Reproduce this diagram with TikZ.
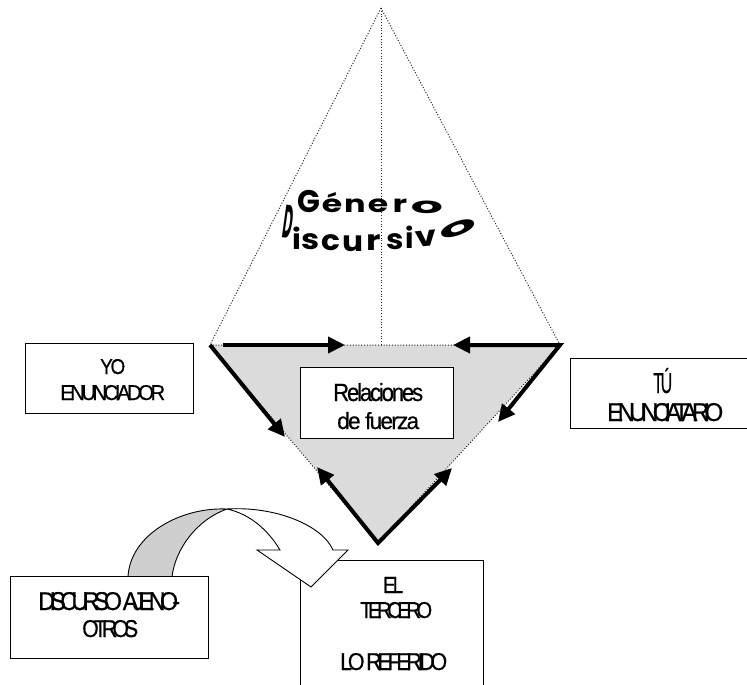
\documentclass[tikz,border=0pt]{standalone}
\usepackage{fontspec}
\setmainfont{Liberation Sans}
\newfontfamily\lsfont{Liberation Sans}[FakeBold=0.5]
\newfontfamily\wafont{Poppins}
\usetikzlibrary{arrows.meta}
\newcommand\fitt[4]{\resizebox{#1pt}{#2pt}{\lsfont\addfontfeature{LetterSpace=#3}#4}}
\tikzset{
  box/.style={draw, line width=0.9pt, fill=white, inner sep=0pt},
  txt/.style={inner sep=0pt, anchor=base west},
  dots/.style={line width=1pt, black!85, dash pattern=on 1pt off 1.8pt},
  thick arrow/.style={line width=4pt, -{Triangle[length=17pt,width=16pt]}},
  both arrow/.style={line width=4pt, miter limit=10, {Triangle[length=17pt,width=16pt]}-{Triangle[length=17pt,width=16pt]}},
  wa/.style={inner sep=0pt, anchor=base, font=\wafont\bfseries\fontsize{24}{24}\selectfont},
  wb/.style={inner sep=0pt, anchor=base, font=\wafont\bfseries\fontsize{26}{26}\selectfont},
  bandgray/.style={draw, line width=0.9pt, fill=black!19},
  bandwhite/.style={draw, line width=0.9pt, fill=white, line join=miter},
}
\newcommand\wl[8]{\node[#1, rotate=#5] (#2) at (#3,#4) {\scalebox{#6}[#7]{#8}};}
\begin{document}
\begin{tikzpicture}[x=1pt,y=-1pt]
\useasboundingbox (0,0) rectangle (747,685);
\fill[white] (0,0) rectangle (747,685);
\clip (0,0) rectangle (747,685);

% key points
\coordinate (P) at (381,8);
\coordinate (A) at (210,345);
\coordinate (B) at (560,345);
\coordinate (C) at (378,543);
\coordinate (M) at (381,345);

% triangle
\fill[black!14] (A) -- (B) -- (C) -- cycle;
\draw[dots] (P) -- (A);
\draw[dots] (P) -- (B);
\draw[dots] (P) -- (M);
\draw[dots] (A) -- (B) -- (C) -- cycle;

% Relaciones de fuerza
\node[box, minimum width=153pt, minimum height=71pt] (rel) at (376.5,402.5) {};
\node[txt] (rel1) at (333,401) {\fitt{90}{18}{-10}{Relaciones}};
\node[txt] (rel2) at (337,429) {\fitt{82}{17}{-8}{de fuerza}};

% thick arrows
\coordinate (t1s) at (223,345);
\coordinate (t1e) at (345,345);
\coordinate (t2e) at (453,345);
\coordinate (d1e) at (285,437);
\coordinate (d2e) at (498,422);
\coordinate (b1e) at (317,467);
\coordinate (b2e) at (452,468);
\draw[thick arrow] (t1s) -- (t1e);
\draw[thick arrow] (A) -- (d1e);
\draw[both arrow] (t2e) -- (B) -- (d2e);
\draw[both arrow] (b1e) -- (C) -- (b2e);

% YO box
\node[box, minimum width=168pt, minimum height=70pt] (yo) at (109,378) {};
\node[txt] (yo1) at (100,374) {\fitt{25}{15}{-12}{YO}};
\node[txt] (yo2) at (60,400) {\fitt{105}{15}{-17}{ENUNCIADOR}};

% TU box
\node[box, minimum width=180pt, minimum height=70pt] (tu) at (660,393) {};
\node[txt] (tu1) at (653,393) {\fitt{19}{25}{-14}{TÚ}};
\node[txt] (tu2) at (607,421) {\fitt{116}{18}{-23}{ENUNCIATARIO}};

% Genero Discursivo
\wl{wa}{g1}{309}{212}{0}{1.25}{1.3}{G}
\wl{wa}{g2}{332}{212}{0}{1.38}{1}{é}
\wl{wa}{g3}{355}{212}{0}{1.33}{1}{n}
\wl{wa}{g4}{378}{212}{0}{1.38}{1}{e}
\wl{wa}{g5}{400}{212}{0}{1.42}{1}{r}
\wl{wa}{g6}{427}{213}{0}{2.1}{0.92}{o}
\wl{wb}{d1}{286}{238}{-8}{0.5}{1.8}{D}
\wl{wb}{d2}{297}{249}{0}{1.15}{1.08}{i}
\wl{wb}{d3}{311}{249}{0}{1.25}{1.08}{s}
\wl{wb}{d4}{331}{250}{0}{1.2}{1.08}{c}
\wl{wb}{d5}{353}{251}{0}{1.2}{1.08}{u}
\wl{wb}{d6}{374}{250}{0}{1.3}{1.08}{r}
\wl{wb}{d7}{395}{249}{0}{1.2}{1.08}{s}
\wl{wb}{d8}{410}{248}{0}{1.1}{1.08}{i}
\wl{wb}{d9}{427}{246}{6}{1.3}{1.08}{v}
\wl{wb}{d10}{460}{235}{20}{2.3}{0.92}{o}

% curved arrow: back face
\coordinate (ga) at (128,577);
\coordinate (gb) at (172,577);
\coordinate (top) at (227,509);
\draw[bandgray] (ga) .. controls (130,535) and (180,507) .. (top)
   .. controls (196,520) and (175,550) .. (gb) -- cycle;

% DISCURSO box
\node[box, minimum width=198pt, minimum height=82pt] (disc) at (109,617) {};
\node[txt] (disc1) at (38,610) {\fitt{142}{18}{-24}{DISCURSO AJENO-}};
\node[txt] (disc2) at (82,637) {\fitt{56}{17}{-23}{OTROS}};

% TERCERO box
\node[box, minimum width=183pt, minimum height=140pt] (ter) at (391.5,630) {};
\node[txt] (ter1) at (383,593) {\fitt{20}{16}{-15}{EL}};
\node[txt] (ter2) at (360,618) {\fitt{72}{16}{-22}{TERCERO}};
\node[txt] (ter3) at (340,670) {\fitt{107}{17}{-20}{LO REFERIDO}};

% curved arrow: front face with head
\coordinate (os) at (333,550);
\coordinate (ob) at (348,550);
\coordinate (tip) at (311,587);
\coordinate (ib) at (257,550);
\coordinate (is) at (280,550);
\draw[bandwhite] (top) .. controls (275,506) and (322,525) .. (os)
   -- (ob) -- (tip) -- (ib) -- (is)
   .. controls (268,530) and (250,514) .. (top);
\end{tikzpicture}
\end{document}
